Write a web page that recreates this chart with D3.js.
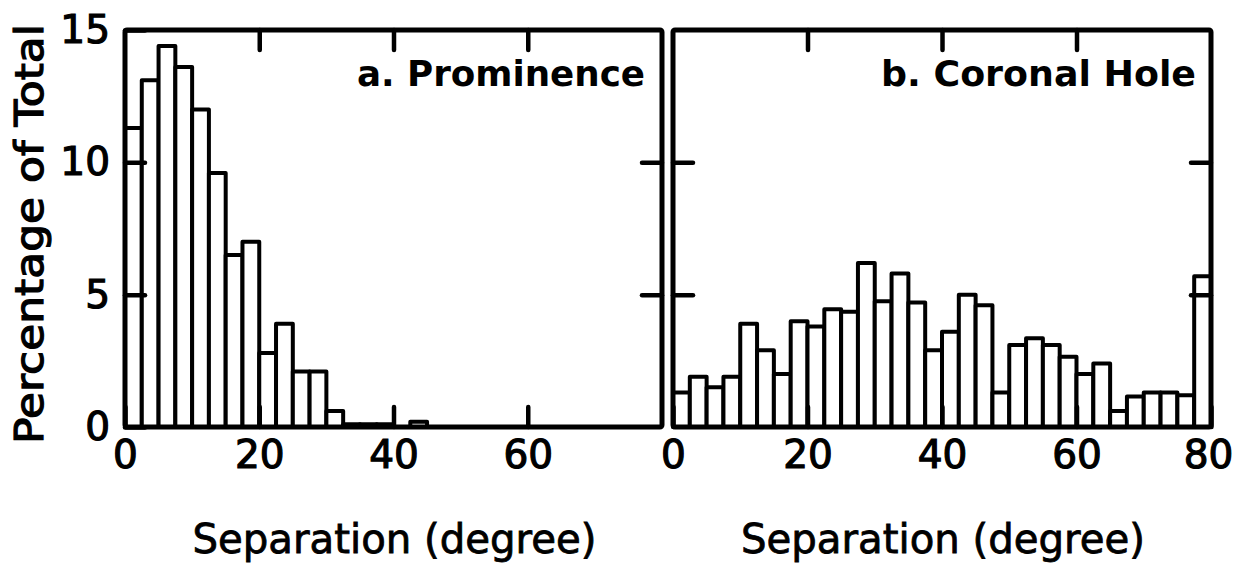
<!DOCTYPE html>
<html>
<head>
<meta charset="utf-8">
<script src="https://cdn.jsdelivr.net/npm/d3@7"></script>
<style>
  html, body { margin: 0; padding: 0; background: #fff; }
  svg { display: block; }
</style>
</head>
<body>
<svg id="chart" width="1235" height="571"></svg>
<script>
// bin left edges (degrees), 2.5 deg wide
const binEdges = [0, 2.5, 5, 7.5, 10, 12.5, 15, 17.5, 20, 22.5, 25, 27.5, 30, 32.5, 35, 37.5,
                  40, 42.5, 45, 47.5, 50, 52.5, 55, 57.5, 60, 62.5, 65, 67.5, 70, 72.5, 75, 77.5];
const binWidth = 2.5;

// percentage of total
const prominence = [11.3, 13.1, 14.4, 13.6, 12.0, 9.6, 6.5, 7.0, 2.8, 3.9, 2.1, 2.1, 0.6, 0.1, 0.1, 0.1,
                    0, 0.2, 0, 0, 0, 0, 0, 0, 0, 0, 0, 0, 0, 0, 0, 0];
const coronalHole = [1.3, 1.9, 1.5, 1.9, 3.9, 2.9, 2.0, 4.0, 3.8, 4.45, 4.35, 6.2, 4.75, 5.8, 4.7, 2.9,
                     3.6, 5.0, 4.6, 1.3, 3.1, 3.35, 3.1, 2.65, 2.0, 2.4, 0.6, 1.15, 1.3, 1.3, 1.2, 5.7];

const yTicks = [0, 5, 10, 15];
const xTicksA = [0, 20, 40, 60];
const xTicksB = [0, 20, 40, 60, 80];
const xTitle = "Separation (degree)";
const yTitle = "Percentage of Total";

const font = "'DejaVu Sans', sans-serif";
const svg = d3.select("#chart");

const plotTop = 30, plotBottom = 427;
const yScale = d3.scaleLinear().domain([0, 15]).range([plotBottom, plotTop]);

const panels = [
  { x0: 125, x1: 662, title: "a. Prominence", values: prominence, ticks: xTicksA, titleEnd: 645, titleLen: 288, yLabels: true },
  { x0: 673, x1: 1211, title: "b. Coronal Hole", values: coronalHole, ticks: xTicksB, titleEnd: 1196, titleLen: 315, yLabels: false }
];

panels.forEach(p => {
  const xScale = d3.scaleLinear().domain([0, 80]).range([p.x0, p.x1]);
  const g = svg.append("g");

  // bars
  g.selectAll("rect.bar")
    .data(binEdges.map((e, i) => ({ x: e, v: p.values[i] })))
    .join("rect")
    .attr("class", "bar")
    .attr("x", d => xScale(d.x))
    .attr("width", d => xScale(d.x + binWidth) - xScale(d.x))
    .attr("y", d => yScale(d.v))
    .attr("height", d => yScale(0) - yScale(d.v))
    .attr("fill", "#fff")
    .attr("stroke", "#000")
    .attr("stroke-width", 4)
    .attr("stroke-linejoin", "round");

  // frame
  g.append("rect")
    .attr("x", p.x0).attr("y", plotTop)
    .attr("width", p.x1 - p.x0).attr("height", plotBottom - plotTop)
    .attr("fill", "none").attr("stroke", "#000").attr("stroke-width", 5)
    .attr("rx", 2);

  const styleAxis = sel => {
    sel.select(".domain").remove();
    sel.selectAll("line").attr("stroke-width", 4.5).attr("stroke-linecap", "round");
    sel.selectAll("text").attr("font-family", font).attr("font-size", 39)
      .attr("fill", "#000").attr("stroke", "#000").attr("stroke-width", 1.2);
  };

  // bottom axis with labels, ticks pointing in
  g.append("g")
    .attr("transform", `translate(0, ${plotBottom})`)
    .call(d3.axisBottom(xScale).tickValues(p.ticks).tickFormat(d3.format("d"))
      .tickSizeInner(-20).tickSizeOuter(0).tickPadding(13))
    .call(styleAxis)
    .call(a => a.selectAll(".tick text").filter(d => d === 80).attr("dx", -3));

  // top axis, ticks only
  g.append("g")
    .attr("transform", `translate(0, ${plotTop})`)
    .call(d3.axisTop(xScale).tickValues([20, 40, 60]).tickFormat("")
      .tickSizeInner(-20).tickSizeOuter(0))
    .call(styleAxis);

  // left axis
  g.append("g")
    .attr("transform", `translate(${p.x0}, 0)`)
    .call(d3.axisLeft(yScale).tickValues(p.yLabels ? yTicks : [5, 10])
      .tickFormat(p.yLabels ? d3.format("d") : "")
      .tickSizeInner(-20).tickSizeOuter(0).tickPadding(15))
    .call(styleAxis);

  // right axis, ticks only
  g.append("g")
    .attr("transform", `translate(${p.x1}, 0)`)
    .call(d3.axisRight(yScale).tickValues([5, 10]).tickFormat("")
      .tickSizeInner(-20).tickSizeOuter(0))
    .call(styleAxis);

  // panel title
  g.append("text")
    .attr("x", p.titleEnd).attr("y", 86)
    .attr("text-anchor", "end")
    .attr("font-family", font).attr("font-size", 36).attr("font-weight", "bold")
    .attr("textLength", p.titleLen).attr("lengthAdjust", "spacingAndGlyphs")
    .text(p.title);

  // x axis title
  g.append("text")
    .attr("x", (p.x0 + p.x1) / 2 + 1).attr("y", 553)
    .attr("text-anchor", "middle")
    .attr("font-family", font).attr("font-size", 40)
    .attr("stroke", "#000").attr("stroke-width", 0.8)
    .attr("textLength", 404).attr("lengthAdjust", "spacingAndGlyphs")
    .text(xTitle);
});

// y axis title
svg.append("text")
  .attr("transform", "translate(43, 234) rotate(-90)")
  .attr("text-anchor", "middle")
  .attr("font-family", font).attr("font-size", 39)
  .attr("stroke", "#000").attr("stroke-width", 1.2)
  .attr("textLength", 420).attr("lengthAdjust", "spacingAndGlyphs")
  .text(yTitle);
</script>
</body>
</html>
